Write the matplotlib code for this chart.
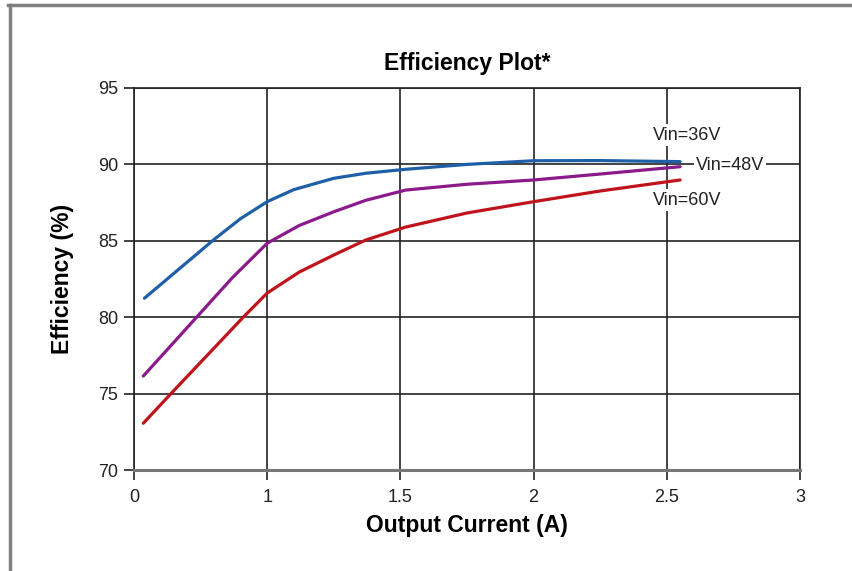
import matplotlib
matplotlib.use("Agg")
import matplotlib.pyplot as plt
from matplotlib.lines import Line2D

plt.rcParams['font.family'] = ['Liberation Sans', 'DejaVu Sans']

x_ticks = [0, 0.5, 1.0, 1.5, 2.0, 2.5]
x_tick_labels = ['0', '1', '1.5', '2', '2.5', '3']
y_ticks = [70, 75, 80, 85, 90, 95]

x36 = [0.039, 0.298, 0.40, 0.5, 0.60, 0.75, 0.87, 1.02, 1.25, 1.5, 1.75, 2.05]
y36 = [81.24, 85.05, 86.45, 87.56, 88.35, 89.09, 89.42, 89.68, 90.0, 90.24, 90.25, 90.18]

x48 = [0.035, 0.235, 0.37, 0.5, 0.62, 0.75, 0.87, 1.02, 1.25, 1.5, 1.75, 2.05]
y48 = [76.15, 80.0, 82.6, 84.84, 86.0, 86.9, 87.65, 88.32, 88.7, 88.98, 89.37, 89.85]

x60 = [0.035, 0.14, 0.28, 0.41, 0.5, 0.62, 0.75, 0.87, 1.02, 1.25, 1.5, 1.75, 2.05]
y60 = [73.06, 75.02, 77.6, 80.0, 81.58, 82.95, 84.07, 85.05, 85.9, 86.82, 87.56, 88.26, 88.98]

labels = ['Vin=36V', 'Vin=48V', 'Vin=60V']

fig = plt.figure(figsize=(8.52, 5.71), dpi=100)
W, H = 852, 571
ax = fig.add_axes([134 / W, 1 - 470 / H, (800 - 134) / W, (470 - 88) / H])

ax.set_xlim(0, 2.5)
ax.set_ylim(70, 95)
ax.set_xticks(x_ticks)
ax.set_xticklabels(x_tick_labels)
ax.set_yticks(y_ticks)
ax.grid(True, color='#222222', linewidth=1.2)
ax.set_axisbelow(True)
for s in ['top', 'right', 'left']:
    ax.spines[s].set_color('#222222')
    ax.spines[s].set_linewidth(1.2)
ax.spines['bottom'].set_color('#777777')
ax.spines['bottom'].set_linewidth(2.2)
ax.tick_params(direction='out', length=7.5, width=1.2, color='#222222',
               labelsize=13, labelcolor='#222222')
ax.tick_params(axis='y', pad=4)
ax.tick_params(axis='x', pad=6)

ax.plot(x36, y36, color='#1f5fa8', linewidth=2.3, solid_capstyle='round', solid_joinstyle='round')
ax.plot(x48, y48, color='#8b1a8b', linewidth=2.3, solid_capstyle='round', solid_joinstyle='round')
ax.plot(x60, y60, color='#c0141c', linewidth=2.3, solid_capstyle='round', solid_joinstyle='round')

bb = dict(facecolor='white', edgecolor='none', pad=1.5)
ax.text(2.076, 91.92, labels[0], fontsize=13, color='#222222', ha='center', va='center', bbox=bb)
ax.text(2.237, 89.96, labels[1], fontsize=13, color='#222222', ha='center', va='center', bbox=bb)
ax.text(2.076, 87.67, labels[2], fontsize=13, color='#222222', ha='center', va='center', bbox=bb)

ax.set_title('Efficiency Plot*', fontsize=16.5, fontweight='bold', pad=13)
ax.set_xlabel('Output Current (A)', fontsize=16.5, fontweight='bold', labelpad=6)
ax.set_ylabel('Efficiency (%)', fontsize=16.5, fontweight='bold', labelpad=17)

# screenshot frame lines
fig.add_artist(Line2D([8 / W, 1], [1 - 5 / H, 1 - 5 / H], color='#808080', linewidth=2.5, transform=fig.transFigure))
fig.add_artist(Line2D([10 / W, 10 / W], [0, 1 - 5 / H], color='#808080', linewidth=2.5, transform=fig.transFigure))

fig.savefig('out.png', dpi=100)
